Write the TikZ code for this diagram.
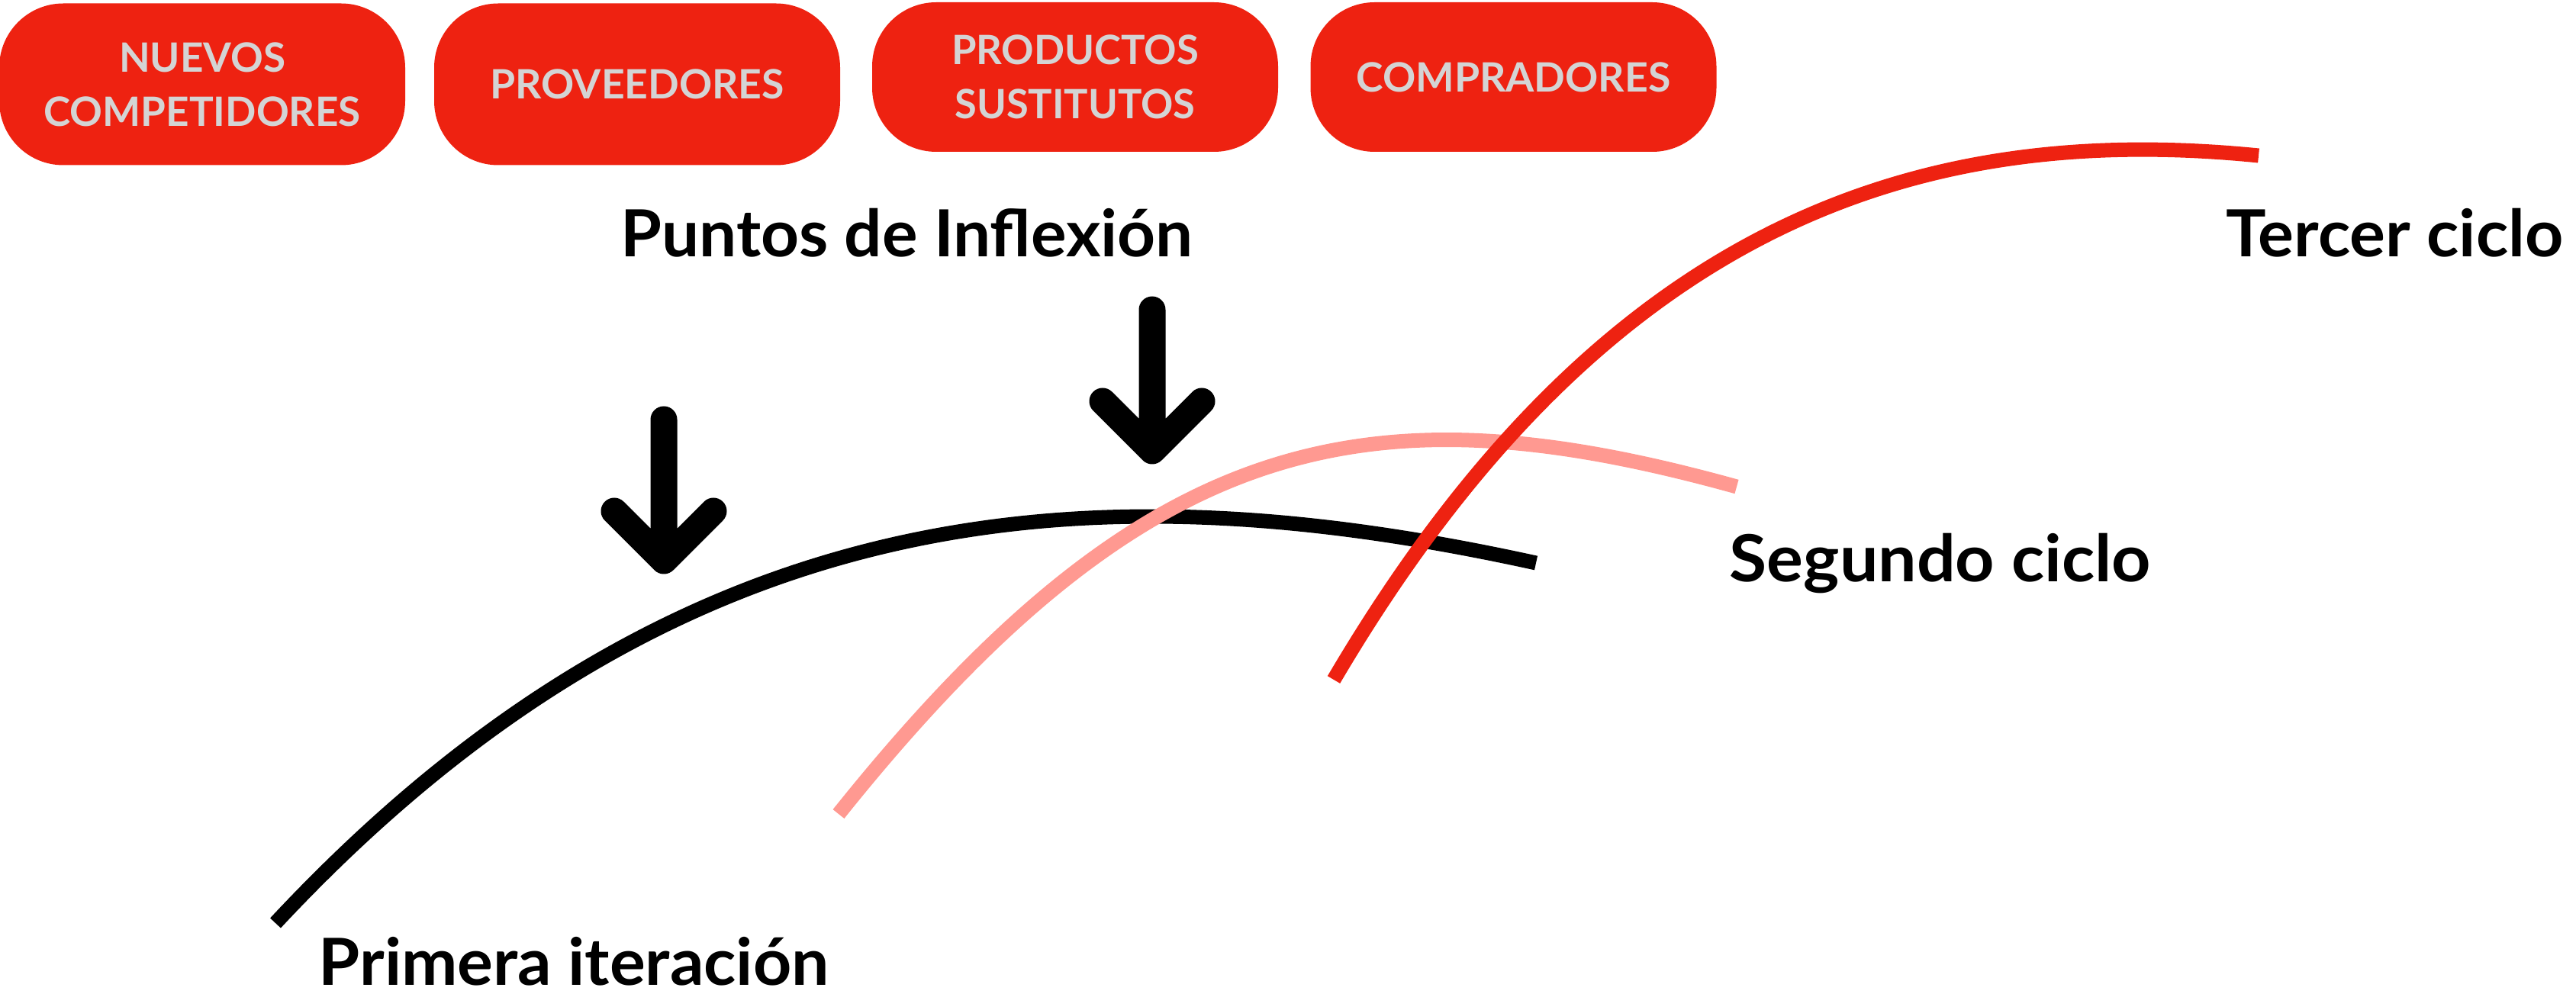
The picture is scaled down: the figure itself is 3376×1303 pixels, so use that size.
\documentclass[tikz,border=0pt]{standalone}
\usepackage{fontspec}
\usepackage{graphicx}
\setmainfont{Lato}
\definecolor{boxred}{RGB}{238,34,17}
\definecolor{pinkc}{RGB}{255,153,145}
\definecolor{boxtext}{RGB}{212,212,212}
\newlength\fitlen
\newcommand\fitw[2]{\settowidth\fitlen{#2}\scalebox{\fpeval{#1/\fitlen}}[1]{#2}}
\begin{document}
\begin{tikzpicture}[x=0.25pt,y=-0.25pt,
  box/.style={fill=boxred, rounded corners=21pt, minimum width=133pt, inner sep=0pt, align=center, text=boxtext, font=\fontsize{13.25}{17.75}\selectfont\bfseries},
  lbl/.style={anchor=base west, inner sep=0pt, font=\fontsize{21.3}{25}\selectfont\bfseries},
  curve/.style={line width=4.75pt, line cap=butt},
  inflex/.style={line width=8.75pt, line cap=round, line join=round}]
\useasboundingbox (0,0) rectangle (3376,1303);
% boxes
\node[box, minimum height=53pt] (nc) at (265,110.5) {\fitw{54.5pt}{NUEVOS}\\\fitw{103.75pt}{COMPETIDORES}};
\node[box, minimum height=53pt] (pv) at (835,110.5) {\fitw{96.5pt}{PROVEEDORES}};
\node[box, minimum height=49pt] (ps) at (1409,101) {\fitw{81pt}{PRODUCTOS}\\\fitw{78.75pt}{SUSTITUTOS}};
\node[box, minimum height=49pt] (cp) at (1983.5,101) {\fitw{103pt}{COMPRADORES}};
% curves
\coordinate (b0) at (361,1210); \coordinate (b1) at (2013,738);
\coordinate (p0) at (1099,1067); \coordinate (p1) at (2276,638);
\coordinate (r0) at (1748,891); \coordinate (r1) at (2960,204);
\draw[curve, black] (b0) .. controls (891,642) and (1438,612) .. (b1);
\draw[curve, pinkc] (p0) .. controls (1499,567) and (1790,503) .. (p1);
\draw[curve, boxred] (r0) .. controls (2098,296) and (2510,159) .. (r1);
% inflection arrows
\coordinate (a1top) at (870,550); \coordinate (a1tip) at (870,735);
\coordinate (a1l) at (805,670); \coordinate (a1r) at (935,670);
\coordinate (a2top) at (1510,406); \coordinate (a2tip) at (1510,591);
\coordinate (a2l) at (1445,526); \coordinate (a2r) at (1575,526);
\draw[inflex] (a1top) -- (a1tip) (a1l) -- (a1tip) -- (a1r);
\draw[inflex] (a2top) -- (a2tip) (a2l) -- (a2tip) -- (a2r);
% labels
\node[lbl] (pi) at (813,337) {\fitw{187.5pt}{Puntos de Inflexión}};
\node[lbl] (tc) at (2917,337) {\fitw{110.5pt}{Tercer ciclo}};
\node[lbl] (sc) at (2266,763) {\fitw{138pt}{Segundo ciclo}};
\node[lbl] (pr) at (417,1292) {\fitw{167.25pt}{Primera iteración}};
\end{tikzpicture}
\end{document}
